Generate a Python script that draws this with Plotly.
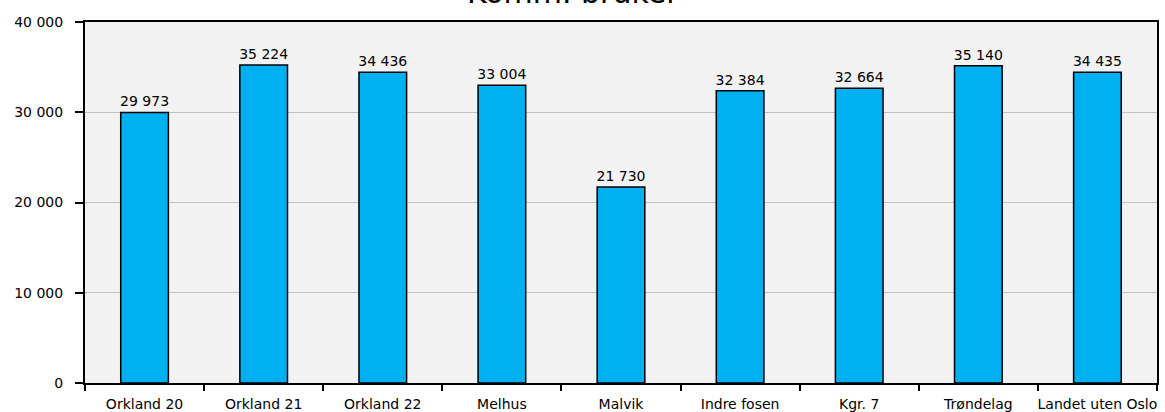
import plotly.graph_objects as go

categories = ['Orkland 20', 'Orkland 21', 'Orkland 22', 'Melhus', 'Malvik',
              'Indre fosen', 'Kgr. 7', 'Trøndelag', 'Landet uten Oslo']
values = [29973, 35224, 34436, 33004, 21730, 32384, 32664, 35140, 34435]
title_text = 'Komm. bruker'

# labels like "29 973"
labels = ['{:,}'.format(v).replace(',', ' ') for v in values]

fig = go.Figure()
fig.add_trace(go.Bar(
    x=categories, y=values,
    text=labels, textposition='outside', cliponaxis=False,
    textfont=dict(family='DejaVu Sans', size=14, color='black'),
    marker=dict(color='#00b0f0', line=dict(color='black', width=1.5)),
))

fig.update_layout(
    width=1165, height=412,
    margin=dict(l=85, r=8, t=22, b=29),
    paper_bgcolor='white', plot_bgcolor='#f2f2f2',
    separators=', ',
    bargap=0.6,
    showlegend=False,
    font=dict(family='DejaVu Sans', size=14, color='black'),
    uniformtext=dict(minsize=14, mode='show'),
)
fig.add_annotation(text=title_text, xref='paper', yref='paper', x=0.455, y=1.029,
                   xanchor='center', yanchor='bottom', showarrow=False,
                   font=dict(size=30, family='DejaVu Sans', color='black'))

fig.update_yaxes(range=[0, 40000], dtick=10000, tickformat=',d', automargin=False,
                 showgrid=True, gridcolor='#c0c0c0', gridwidth=1,
                 showline=True, linecolor='black', linewidth=2, mirror=True,
                 ticks='outside', ticklen=8, tickcolor='black', tickwidth=1.5,
                 ticklabelstandoff=9, zeroline=False)
fig.update_xaxes(tickson='boundaries', ticks='outside', ticklen=6, tickcolor='black',
                 tickwidth=1.5, tickangle=0, automargin=False, ticklabelstandoff=7,
                 showline=True, linecolor='black', linewidth=2, mirror=True,
                 showgrid=False)

# page body has a default margin, drop it so the figure sits at the corner
fig.write_html('out.html', config={'displayModeBar': False},
               post_script="document.body.style.margin='0';")
